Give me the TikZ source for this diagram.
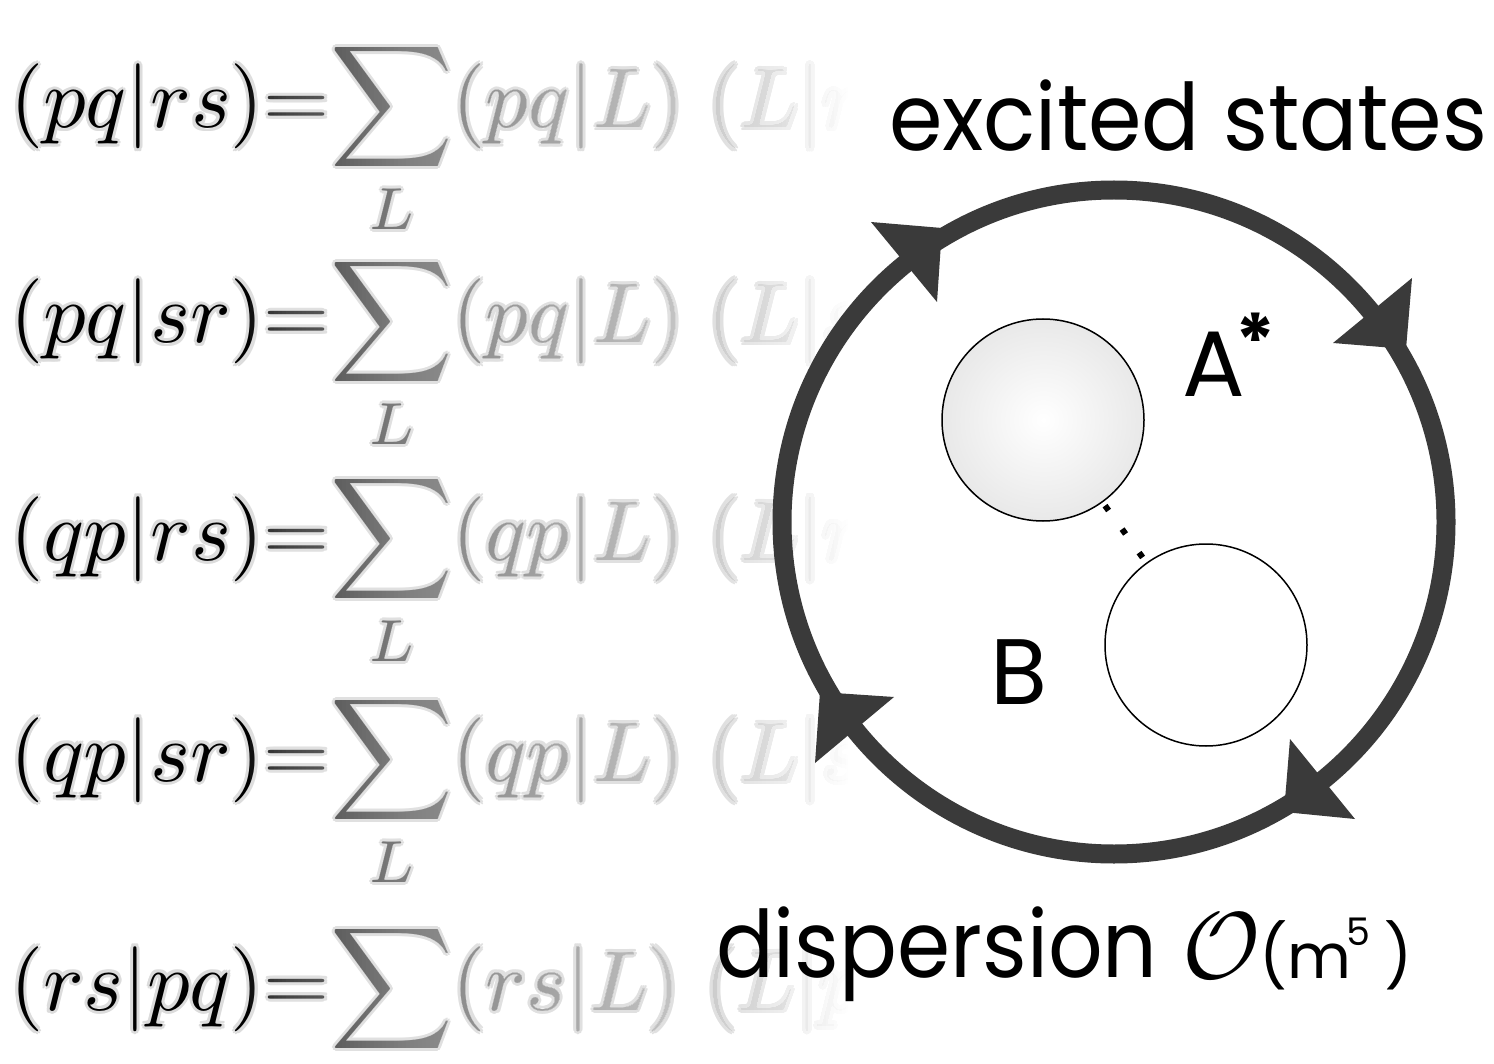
\documentclass[tikz,border=0pt]{standalone}
\usepackage{graphicx}
\usepackage{fontspec}
\newfontfamily\pop{Poppins}
\definecolor{ringc}{RGB}{58,58,58}
\definecolor{glowc}{RGB}{220,220,220}
\definecolor{ballc}{RGB}{210,210,210}
\pgfdeclareradialshading{ballshade}{\pgfpointorigin}{color(0bp)=(white); color(50bp)=(ballc)}
\newcommand{\bigeq}[1]{\scalebox{8.5}{$\displaystyle #1$}}
\begin{document}
\begin{tikzpicture}[x=1pt,y=-1pt,
  eq/.style={anchor=base west, inner sep=0pt, outer sep=0pt, font=\fontsize{10}{12}\selectfont},
  lbl/.style={anchor=base west, inner sep=0pt, outer sep=0pt, font=\pop\fontsize{93}{100}\selectfont},
  small/.style={anchor=base west, inner sep=0pt, outer sep=0pt, font=\pop\fontsize{62}{70}\selectfont},
  ball/.style={circle, draw=black, line width=1.5pt, minimum size=202pt, inner sep=0pt},
  arrowtri/.style={fill=ringc}]
\useasboundingbox (0,0) rectangle (1494,1064);
\clip (0,0) rectangle (1494,1064);
\fill[white] (0,0) rectangle (1494,1064);
% equations with glow
\foreach \r/\yb/\eqn in {
 1/128/{(pq|rs)\mathord{=}\!\sum_L(pq|L)\;(L|rs)},
 2/343/{(pq|sr)\mathord{=}\!\sum_L(pq|L)\;(L|sr)},
 3/560/{(qp|rs)\mathord{=}\!\sum_L(qp|L)\;(L|rs)},
 4/781/{(qp|sr)\mathord{=}\!\sum_L(qp|L)\;(L|sr)},
 5/1010/{(rs|pq)\mathord{=}\!\sum_L(rs|L)\;(L|pq)}}{
  \foreach \k/\dx/\dy in {1/-3/0,2/3/0,3/0/-3,4/0/3,5/-2.1/-2.1,6/2.1/2.1,7/-2.1/2.1,8/2.1/-2.1}
    \node[eq, text=glowc] (glow\r\k) at (10+\dx,\yb+\dy) {\bigeq{\eqn}};
  \node[eq] (eq\r) at (10,\yb) {\bigeq{\eqn}};
}
% fade to white towards the right
\foreach \i in {1,...,150}{
  \pgfmathsetmacro\sx{250+4*(\i-1)}
  \pgfmathsetmacro\oc{((\sx+2-250)/600)^0.45}
  \pgfmathsetmacro\op{(max(\sx-252,0.01)/600)^0.45}
  \pgfmathsetmacro\aa{1-(1-\oc)/(1-\op)}
  \fill[white, fill opacity=\aa] (\sx,0) rectangle (1000,1064);
}
\fill[white] (848,0) rectangle (1000,1064);
% ring with arrowheads
\draw[ringc, line width=19pt] (1114,522) circle[radius=332pt];
\fill[arrowtri] (871,222) -- (942,228) -- (937,302) -- cycle;
\fill[arrowtri] (1412,278) -- (1333,343) -- (1406,349) -- cycle;
\fill[arrowtri] (820,692) -- (894,697) -- (815,763) -- cycle;
\fill[arrowtri] (1290,739) -- (1355,819) -- (1284,812) -- cycle;
% molecules
\node[ball, shade, shading=ballshade] (A) at (1043,420) {};
\node[ball, fill=white] (B) at (1206,645) {};
\draw[line width=6pt, dash pattern=on 6pt off 23pt, dash phase=25pt] (A) -- (B);
% labels
\node[lbl] (exc) at (889,151) {\scalebox{0.926}[1]{excited states}};
\node[lbl] (alab) at (1182,396) {A};
\node[anchor=base, inner sep=0pt, font=\pop\bfseries\fontsize{75}{80}\selectfont] (star) at (1256,369) {*};
\node[lbl] (blab) at (990,704) {B};
\node[lbl] (disp) at (716,977) {\scalebox{0.92}[1]{dispersion}};
\node[anchor=base west, inner sep=0pt, font=\fontsize{10}{12}\selectfont] (calO) at (1182,978) {\scalebox{9.5}{$\mathcal{O}$}};
\node[small] (mopen) at (1259,978) {(m};
\node[anchor=base west, inner sep=0pt, font=\pop\fontsize{38}{40}\selectfont] (five) at (1346,945) {5};
\node[small] (mclose) at (1384,978) {)};
\end{tikzpicture}
\end{document}
